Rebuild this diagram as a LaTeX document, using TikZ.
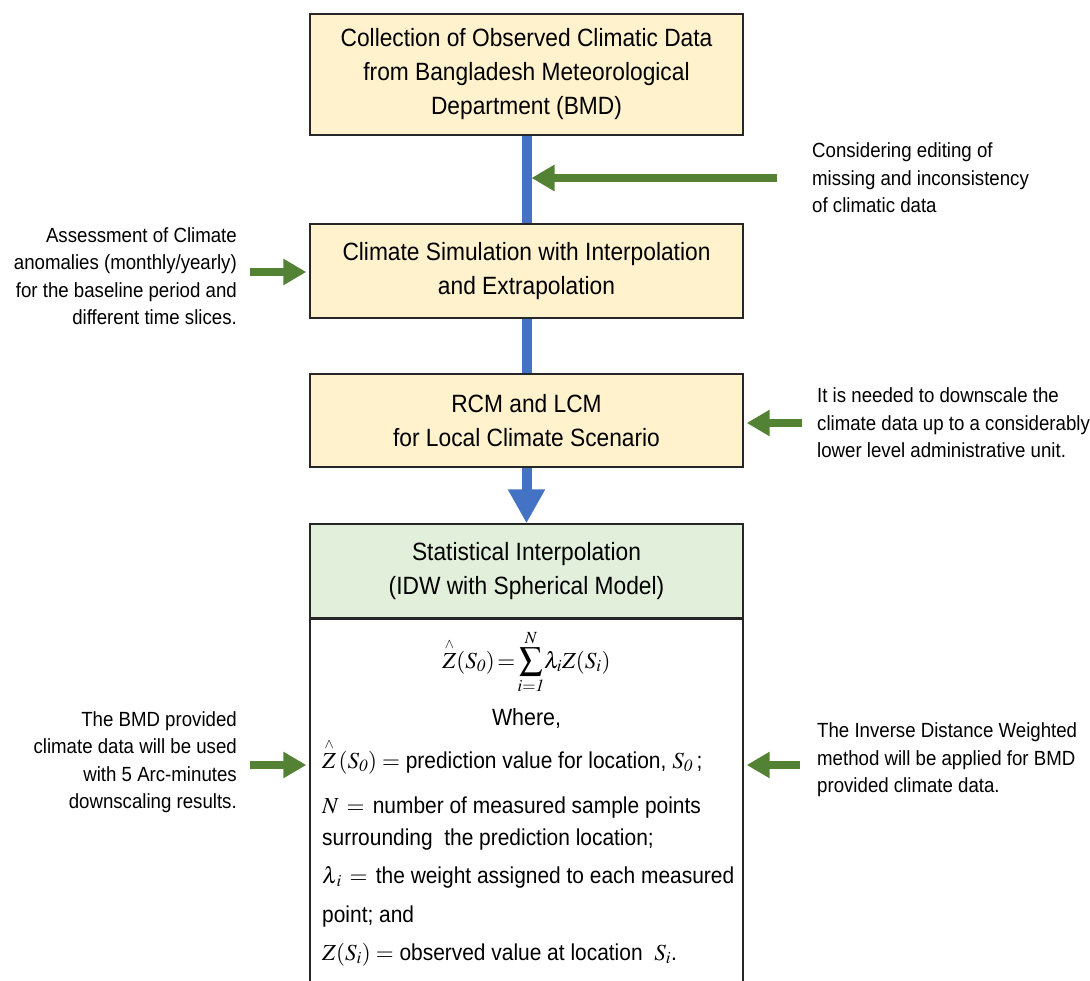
\documentclass[tikz,border=0pt]{standalone}
\usepackage{amsmath}
\usepackage{mathptmx}
\usepackage[no-math]{fontspec}
\setmainfont{Liberation Sans}[FakeStretch=0.91]
\usetikzlibrary{arrows.meta}
\definecolor{boxyellow}{HTML}{FFF2CC}
\definecolor{boxgreen}{HTML}{E2EFDA}
\definecolor{flowblue}{HTML}{4472C4}
\definecolor{arrgreen}{HTML}{548235}
\newcommand{\zhat}{\overset{\scriptscriptstyle\wedge}{Z}}
\tikzset{
  flowbox/.style={draw=black!85, line width=1.4pt, minimum width=433pt, align=center,
    inner sep=0pt, font={\fontsize{25}{34}\selectfont}},
  sidetext/.style={inner sep=0pt, font={\fontsize{20.5}{27.5}\selectfont}},
  bodytext/.style={inner sep=0pt, anchor=base west, font={\fontsize{23}{28}\selectfont}},
  bluelink/.style={draw=flowblue, line width=10pt},
  garrow/.style={draw=arrgreen, line width=8pt, -{Triangle[length=23pt,width=25pt]}},
}
\begin{document}
\begin{tikzpicture}[x=1pt,y=-1pt]
\useasboundingbox (0,0) rectangle (1090,981);
\clip (0,0) rectangle (1090,981);

% boxes
\node[flowbox, fill=boxyellow, minimum height=121pt] (b1) at (526.5,74.5)
  {Collection of Observed Climatic Data\\from Bangladesh Meteorological\\Department (BMD)};
\node[flowbox, fill=boxyellow, minimum height=94pt] (b2) at (526.5,271)
  {Climate Simulation with Interpolation\\and Extrapolation};
\node[flowbox, fill=boxyellow, minimum height=93pt] (b3) at (526.5,420.5)
  {RCM and LCM\\for Local Climate Scenario};
\node[flowbox, fill=boxgreen, minimum height=94pt] (b4) at (526.5,571)
  {Statistical Interpolation\\(IDW with Spherical Model)};
\node[flowbox, fill=white, minimum height=400pt, anchor=north] (b5) at (b4.south) {};

% blue flow
\draw[bluelink] (b1.south) -- (b2.north);
\draw[bluelink] (b2.south) -- (b3.north);
\draw[bluelink, -{Triangle[length=34pt,width=35pt]}] (b3.south) -- (b4.north);

% side texts
\node[sidetext, anchor=west, align=left] (r1) at (812,178)
  {Considering editing of\\missing and inconsistency\\of climatic data};
\node[sidetext, anchor=east, align=right] (l1) at (237,276)
  {Assessment of Climate\\anomalies (monthly/yearly)\\for the baseline period and\\different time slices.};
\node[sidetext, anchor=west, align=left] (r2) at (817,423)
  {It is needed to downscale the\\climate data up to a considerably\\lower level administrative unit.};
\node[sidetext, anchor=east, align=right] (l2) at (237,762)
  {The BMD provided\\climate data will be used\\with 5 Arc-minutes\\downscaling results.};
\node[sidetext, anchor=west, align=left] (r3) at (817,760)
  {The Inverse Distance Weighted\\method will be applied for BMD\\provided climate data.};

% green arrows
\coordinate (r1s) at ([xshift=-35pt]r1.west);
\draw[garrow, shorten >=5pt] (r1s) -- (r1s -| b1.south);
\coordinate (l1s) at ([shift={(13pt,4pt)}]l1.east);
\draw[garrow, shorten >=3pt] (l1s) -- (l1s -| b2.west);
\coordinate (r2s) at ([xshift=-15pt]r2.west);
\draw[garrow, shorten >=3pt] (r2s) -- (r2s -| b3.east);
\coordinate (l2s) at ([shift={(13pt,-3pt)}]l2.east);
\draw[garrow, shorten >=3pt] (l2s) -- (l2s -| b5.west);
\coordinate (r3s) at ([shift={(-17pt,-5pt)}]r3.west);
\draw[garrow, shorten >=3pt] (r3s) -- (r3s -| b5.east);

% body of the statistical box
\node[inner sep=0pt, anchor=base, font={\fontsize{23}{28}\selectfont}] (f) at (526.5,668)
  {$\displaystyle \zhat(S_{\mathit{0}})\!=\!\sum_{i=\mathit{1}}^{N}\! \lambda_i Z(S_i)$};
\node[inner sep=0pt, anchor=base, font={\fontsize{23.5}{28}\selectfont}] (w) at (526.5,725) {Where,};
\node[bodytext] (t1) at (322,768)
  {$\zhat\left(S_{\mathit{0}}\right) =$ prediction value for location, $S_{\mathit{0}}$\,;};
\node[bodytext] (t2) at (322,813) {$N\,=\,$ number of measured sample points};
\node[bodytext] (t3) at (322,845) {surrounding\ \ the prediction location;};
\node[bodytext] (t4) at (322,883) {$\lambda_{\,i}\,=\,$ the weight assigned to each measured};
\node[bodytext] (t5) at (322,922) {point; and};
\node[bodytext] (t6) at (322,960) {$Z(S_i) =$\ observed value at location\ \ $S_i$.};
\end{tikzpicture}
\end{document}
